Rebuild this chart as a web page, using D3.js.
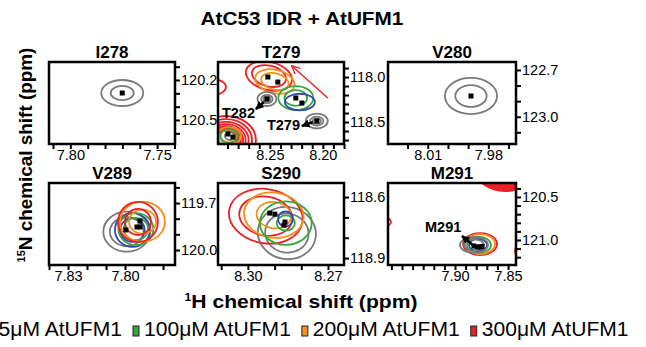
<!DOCTYPE html>
<html>
<head>
<meta charset="utf-8">
<script src="https://cdn.jsdelivr.net/npm/d3@7"></script>
<style>
  html, body { margin: 0; padding: 0; background: #fff; }
  svg { display: block; font-family: "Liberation Sans", Arial, Helvetica, sans-serif; }
</style>
</head>
<body>
<svg id="chart" width="646" height="347"></svg>
<script>
// ---- data -------------------------------------------------------------
const chartTitle = "AtC53 IDR + AtUFM1";
const residues = ["I278", "T279", "V280", "V289", "S290", "M291"];
const titration = ["0μM AtUFM1", "25μM AtUFM1", "100μM AtUFM1", "200μM AtUFM1", "300μM AtUFM1"];
const titrationColors = ["#7a7a7a", "#3347b3", "#38a83a", "#f5901e", "#ec1f26"];

// spectral windows per residue (ppm): 1H runs right-to-left, 15N top-to-bottom
const hWindows = [[7.8123, 7.7397], [8.299, 8.180], [8.0297, 7.9663], [7.840, 7.7737], [8.3112, 8.264], [7.9632, 7.8425]];
const nWindows = [[120.065, 120.68], [117.833, 118.744], [122.649, 123.175], [119.572, 120.096], [118.531, 118.934], [120.337, 121.291]];
const hLabels = [["7.80", "7.75"], ["8.25", "8.20"], ["8.01", "7.98"], ["7.83", "7.80"], ["8.30", "8.27"], ["7.90", "7.85"]];
const nLabels = [["120.2", "120.5"], ["118.0", "118.5"], ["122.7", "123.0"], ["119.7", "120.0"], ["118.6", "118.9"], ["120.5", "121.0"]];
const hStep = [0.01, 0.01, 0.01, 0.01, 0.01, 0.01];
const nStep = [0.1, 0.1, 0.1, 0.1, 0.1, 0.1];

// contoured peaks: [titration point, 1H, 15N, 1H half-width, 15N half-width, contour levels, level ratio, tilt]
const peaksI278 = [
  [0, 7.7701, 120.2975, 0.0121, 0.0975, 2, 0.55, 0]
];
const peaksT279 = [
  [4, 8.2915, 118.700, 0.0283, 0.267, 8, 0.87, 0],
  [3, 8.2887, 118.656, 0.0113, 0.100, 2, 0.7, 0],
  [2, 8.2887, 118.656, 0.0085, 0.078, 1, 1, 0],
  [0, 8.2878, 118.656, 0.0047, 0.044, 1, 1, 0],
  [4, 8.3047, 118.111, 0.0132, 0.089, 1, 1, 0],
  [4, 8.2509, 117.989, 0.0222, 0.156, 2, 0.74, 14],
  [3, 8.2453, 118.050, 0.0189, 0.130, 2, 0.7, 14],
  [0, 8.2528, 118.244, 0.0090, 0.078, 3, 0.6, 0],
  [2, 8.2255, 118.233, 0.0165, 0.133, 2, 0.65, 0],
  [1, 8.2217, 118.278, 0.0142, 0.092, 1, 1, 0],
  [0, 8.2057, 118.489, 0.0104, 0.083, 3, 0.6, 0]
];
const peaksV280 = [
  [0, 7.9886, 122.867, 0.0129, 0.116, 2, 0.6, 0]
];
const peaksV289 = [
  [0, 7.7991, 119.883, 0.0123, 0.128, 2, 0.72, 0],
  [1, 7.7961, 119.872, 0.0092, 0.108, 2, 0.7, 0],
  [2, 7.7943, 119.866, 0.0092, 0.102, 2, 0.7, 0],
  [3, 7.7908, 119.819, 0.0118, 0.128, 2, 0.6, 0],
  [4, 7.7932, 119.821, 0.0105, 0.128, 2, 0.65, 0]
];
const peaksS290 = [
  [0, 8.2854, 118.777, 0.0109, 0.128, 2, 0.75, 10],
  [4, 8.2933, 118.694, 0.0139, 0.133, 2, 0.72, 10],
  [3, 8.2903, 118.689, 0.0112, 0.111, 2, 0.58, 8],
  [2, 8.2858, 118.728, 0.0097, 0.107, 2, 0.35, 0],
  [1, 8.2859, 118.708, 0.0028, 0.037, 1, 1, 0]
];
const peaksM291 = [
  [4, 7.8764, 121.047, 0.0160, 0.128, 1, 1, 0],
  [3, 7.8764, 121.047, 0.0142, 0.116, 1, 1, 0],
  [2, 7.8774, 121.058, 0.0113, 0.093, 1, 1, 0],
  [1, 7.8783, 121.058, 0.0085, 0.070, 1, 1, 0],
  [0, 7.8821, 121.058, 0.0132, 0.093, 2, 0.7, 0],
  [4, 7.8340, 121.128, 0.0094, 0.105, 1, 1, 0],
  [4, 7.9679, 120.791, 0.0075, 0.058, 1, 1, 0]
];
// intense neighbouring peaks whose contours merge into a solid area
const saturatedM291 = [[4, 7.8528, 120.186, 0.0283, 0.256]];

// picked peak maxima (1H, 15N)
const picksI278 = [[7.7701, 120.2975]];
const picksT279 = [[8.2519, 118.0], [8.2425, 118.056], [8.2528, 118.244], [8.2255, 118.233],
                   [8.2198, 118.289], [8.2057, 118.489], [8.2896, 118.633], [8.2849, 118.667]];
const picksV280 = [[7.9886, 122.867]];
const picksV289 = [[7.7995, 119.872], [7.7937, 119.853], [7.7921, 119.853], [7.7921, 119.815]];
const picksS290 = [[8.2918, 118.679], [8.2899, 118.684], [8.2861, 118.723], [8.2865, 118.738]];
const picksM291 = [[7.8821, 121.070], [7.8792, 121.081], [7.8764, 121.081], [7.8745, 121.075]];

// assignment labels: [panel, text, 1H, 15N, arrow tip 1H, arrow tip 15N, arrow end 1H, arrow end 15N]
const assignments = [
  [1, "T282", 8.2953, 118.456, 8.2632, 118.356, 8.2557, 118.278],
  [1, "T279", 8.2528, 118.589, 8.2198, 118.544, 8.2094, 118.500],
  [5, "M291", 7.9283, 120.907, 7.8934, 120.953, 7.8811, 121.081]
];
// titration direction: [panel, from 1H, from 15N, to 1H, to 15N]
const shiftArrows = [[1, 8.1953, 118.233, 8.2292, 117.878]];

const allPeaks = [peaksI278, peaksT279, peaksV280, peaksV289, peaksS290, peaksM291];
const allPicks = [picksI278, picksT279, picksV280, picksV289, picksS290, picksM291];
const allSaturated = [[], [], [], [], [], saturatedM291];

// ---- layout ------------------------------------------------------------
const svg = d3.select("#chart");
const colX = [49, 218, 388], colW = [126, 126, 128];
const rowY = [62, 183], frameH = 82;

// stretch a text horizontally (along its own baseline) to a given width about centre cx
function stretchTo(sel, width, cx) {
  const bw = sel.node().getBBox().width;
  const s = width / bw;
  sel.attr("transform", (sel.attr("transform") || "") + ` translate(${cx},0) scale(${s},1) translate(${-cx},0)`);
}

const defs = svg.append("defs");
defs.append("marker").attr("id", "blackHead")
  .attr("viewBox", "0 0 10 10").attr("refX", 9).attr("refY", 5)
  .attr("markerWidth", 3.2).attr("markerHeight", 3.2).attr("orient", "auto")
  .append("path").attr("d", "M0,0L10,5L0,10Z").attr("fill", "#000");
defs.append("marker").attr("id", "redHead")
  .attr("viewBox", "0 0 10 10").attr("refX", 9).attr("refY", 5)
  .attr("markerWidth", 9).attr("markerHeight", 9).attr("markerUnits", "userSpaceOnUse").attr("orient", "auto")
  .append("path").attr("d", "M0,0.5L9.5,5L0,9.5").attr("fill", "none")
  .attr("stroke", titrationColors[4]).attr("stroke-width", 1.4);

const title = svg.append("text").attr("x", 302).attr("y", 25).attr("text-anchor", "middle")
  .attr("font-size", 18).attr("font-weight", "bold").text(chartTitle);
stretchTo(title, 203, 302);

residues.forEach((res, i) => {
  const col = i % 3, row = Math.floor(i / 3);
  const w = colW[col], h = frameH;
  const x = d3.scaleLinear().domain(hWindows[i]).range([0, w]);
  const y = d3.scaleLinear().domain(nWindows[i]).range([0, h]);
  const g = svg.append("g").attr("transform", `translate(${colX[col]},${rowY[row]})`);

  g.append("text").attr("x", w / 2).attr("y", -4).attr("text-anchor", "middle")
    .attr("font-size", 17).attr("font-weight", "bold").text(res);

  const clipId = "clip" + i;
  defs.append("clipPath").attr("id", clipId)
    .append("rect").attr("width", w).attr("height", h);
  const plot = g.append("g").attr("clip-path", `url(#${clipId})`);

  // saturated areas
  plot.selectAll("ellipse.sat").data(allSaturated[i]).join("ellipse").attr("class", "sat")
    .attr("cx", d => x(d[1])).attr("cy", d => y(d[2]))
    .attr("rx", d => Math.abs(x(d[1] + d[3]) - x(d[1])))
    .attr("ry", d => Math.abs(y(d[2] + d[4]) - y(d[2])))
    .attr("fill", d => titrationColors[d[0]]);

  // contour rings
  const rings = [];
  allPeaks[i].forEach(p => {
    for (let k = 0; k < p[5]; k++) rings.push({ peak: p, f: Math.pow(p[6], k) });
  });
  plot.selectAll("ellipse.ring").data(rings).join("ellipse").attr("class", "ring")
    .attr("cx", d => x(d.peak[1])).attr("cy", d => y(d.peak[2]))
    .attr("rx", d => Math.abs(x(d.peak[1] + d.peak[3] * d.f) - x(d.peak[1])))
    .attr("ry", d => Math.abs(y(d.peak[2] + d.peak[4] * d.f) - y(d.peak[2])))
    .attr("transform", d => `rotate(${d.peak[7]},${x(d.peak[1])},${y(d.peak[2])})`)
    .attr("fill", "none").attr("stroke", d => titrationColors[d.peak[0]])
    .attr("stroke-width", 1.8);

  // picked maxima
  plot.selectAll("rect.pick").data(allPicks[i]).join("rect").attr("class", "pick")
    .attr("x", d => x(d[0]) - 2.5).attr("y", d => y(d[1]) - 2.5)
    .attr("width", 5).attr("height", 5).attr("fill", "#000");

  // titration direction arrow
  plot.selectAll("line.shift").data(shiftArrows.filter(a => a[0] === i)).join("line").attr("class", "shift")
    .attr("x1", d => x(d[1])).attr("y1", d => y(d[2]))
    .attr("x2", d => x(d[3])).attr("y2", d => y(d[4]))
    .attr("stroke", titrationColors[4]).attr("stroke-width", 1.4)
    .attr("marker-end", "url(#redHead)");

  // assignment labels with arrows
  const asg = assignments.filter(a => a[0] === i);
  g.selectAll("line.asg").data(asg).join("line").attr("class", "asg")
    .attr("x1", d => x(d[6])).attr("y1", d => y(d[7]))
    .attr("x2", d => x(d[4])).attr("y2", d => y(d[5]))
    .attr("stroke", "#000").attr("stroke-width", 2.6)
    .attr("marker-end", "url(#blackHead)");
  g.selectAll("text.asg").data(asg).join("text").attr("class", "asg")
    .attr("x", d => x(d[2])).attr("y", d => y(d[3]))
    .attr("font-size", 14.5).attr("font-weight", "bold").text(d => d[1]);

  // axes
  const ticksFor = (dom, step) => {
    const lo = Math.min(...dom), hi = Math.max(...dom);
    const out = [];
    for (let t = Math.ceil(lo / step - 1e-6); t <= Math.floor(hi / step + 1e-6); t++) out.push(+(t * step).toFixed(4));
    return out;
  };
  const hLab = hLabels[i].map(Number), nLab = nLabels[i].map(Number);
  const labelOf = (labs, strs) => v => {
    const j = labs.findIndex(l => Math.abs(l - v) < 1e-6);
    return j >= 0 ? strs[j] : "";
  };

  const ax = g.append("g").attr("transform", `translate(0,${h})`)
    .call(d3.axisBottom(x).tickValues(ticksFor(hWindows[i], hStep[i]))
      .tickFormat(labelOf(hLab, hLabels[i])).tickSize(5).tickPadding(1));
  const ay = g.append("g").attr("transform", `translate(${w},0)`)
    .call(d3.axisRight(y).tickValues(ticksFor(nWindows[i], nStep[i]))
      .tickFormat(labelOf(nLab, nLabels[i])).tickSize(5).tickPadding(1));
  [ax, ay].forEach(a => {
    a.select(".domain").remove();
    a.selectAll(".tick line").attr("stroke", "#000").attr("stroke-width", 2);
    a.selectAll(".tick text").attr("fill", "#000").attr("font-size", 14.5)
      .attr("font-family", "Liberation Sans, Arial, sans-serif");
  });
  ax.selectAll(".tick text").attr("dy", "0.68em");

  g.append("rect").attr("width", w).attr("height", h)
    .attr("fill", "none").attr("stroke", "#000").attr("stroke-width", 2.5);
});

// axis titles
const xTitle = svg.append("text").attr("x", 301).attr("y", 308).attr("text-anchor", "middle")
  .attr("font-size", 19).attr("font-weight", "bold");
xTitle.append("tspan").attr("font-size", 11).attr("dy", -7).text("1");
xTitle.append("tspan").attr("dy", 7).text("H chemical shift (ppm)");
stretchTo(xTitle, 233, 301);

const yTitle = svg.append("text").attr("transform", "translate(32,155) rotate(-90)")
  .attr("text-anchor", "middle").attr("font-size", 19).attr("font-weight", "bold");
yTitle.append("tspan").attr("font-size", 11).attr("dy", -7).text("15");
yTitle.append("tspan").attr("dy", 7).text("N chemical shift (ppm)");
stretchTo(yTitle, 215, 0);

// legend
const legend = svg.append("g");
const items = legend.selectAll("g").data(titration).join("g");
items.append("rect").attr("y", 326).attr("width", 6).attr("height", 10)
  .attr("fill", (d, j) => titrationColors[j]).attr("stroke", "#222").attr("stroke-width", 1);
const labels = items.append("text").attr("x", 11).attr("y", 336).attr("font-size", 19.5).text(d => d);
const baseW = labels.filter((d, j) => j === 4).node().getComputedTextLength();
const sx = 147 / baseW;
labels.attr("transform", `translate(11,0) scale(${sx},1) translate(-11,0)`);
const offsets = [];
let acc = 0;
labels.each(function () {
  offsets.push(acc);
  acc += 11 + this.getComputedTextLength() * sx + 11;
});
const shift = 133 - offsets[2];
items.attr("transform", (d, j) => `translate(${offsets[j] + shift},0)`);
</script>
</body>
</html>
